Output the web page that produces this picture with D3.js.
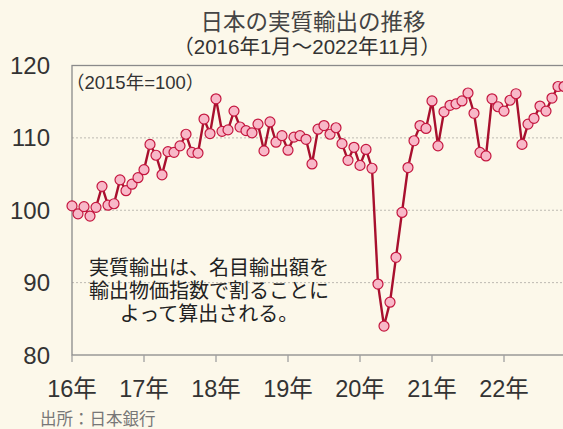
<!DOCTYPE html>
<html lang="ja">
<head>
<meta charset="utf-8">
<title>日本の実質輸出の推移</title>
<script src="https://d3js.org/d3.v7.min.js"></script>
<style>
  body { margin: 0; background: #fcf8ea; }
  svg { display: block; font-family: "Liberation Sans", Arial, "Noto Sans CJK JP", sans-serif; }
</style>
</head>
<body>
<script>
// monthly real exports index, 2016-01 .. 2022-11 (2015 = 100)
var values = [
  100.6, 99.5, 100.5, 99.2, 100.4, 103.3, 100.7, 100.9, 104.2, 102.7, 103.6, 104.5,
  105.6, 109.1, 107.6, 104.9, 108.1, 108.0, 108.9, 110.5, 108.0, 107.9, 112.6, 110.6,
  115.4, 110.9, 111.1, 113.7, 111.5, 111.0, 110.7, 111.9, 108.2, 112.2, 109.4, 110.3,
  108.3, 110.1, 110.3, 109.8, 106.4, 111.2, 111.7, 110.5, 111.4, 109.2, 106.9, 108.7,
  106.2, 108.4, 105.8, 89.8, 84.0, 87.3, 93.5, 99.7, 105.9, 109.6, 111.7, 111.3,
  115.1, 108.9, 113.6, 114.5, 114.7, 115.1, 116.2, 113.4, 108.0, 107.5, 115.4, 114.3,
  113.7, 115.2, 116.1, 109.1, 111.9, 112.7, 114.4, 113.7, 115.5, 117.1, 117.1
];
var yearLabels = ["16年", "17年", "18年", "19年", "20年", "21年", "22年"];
var yTicks = [80, 90, 100, 110, 120];
var noteLines = ["実質輸出は、名目輸出額を", "輸出物価指数で割ることに", "よって算出される。"];

var width = 563, height = 429;
var plotL = 72, plotT = 65.5, plotR = 570, plotB = 355;

var svg = d3.select("body").append("svg")
  .attr("width", width)
  .attr("height", height);

svg.append("rect").attr("width", width).attr("height", height).attr("fill", "#fcf8ea");

var x = d3.scaleLinear().domain([0, 12]).range([plotL, plotL + 72]);
var y = d3.scaleLinear().domain([80, 120]).range([plotB, plotT]);

// grid
svg.selectAll(".grid")
  .data([90, 100, 110])
  .enter().append("line")
  .attr("x1", plotL).attr("x2", plotR)
  .attr("y1", function(d) { return y(d); })
  .attr("y2", function(d) { return y(d); })
  .attr("stroke", "#bdbab2")
  .attr("stroke-width", 1)
  .attr("stroke-dasharray", "2,2");

// frame
svg.append("rect")
  .attr("x", plotL).attr("y", plotT)
  .attr("width", plotR - plotL).attr("height", plotB - plotT)
  .attr("fill", "none")
  .attr("stroke", "#8a8a8a")
  .attr("stroke-width", 1.3);

// x ticks
svg.selectAll(".xtick")
  .data(yearLabels)
  .enter().append("line")
  .attr("x1", function(d, i) { return x(i * 12); })
  .attr("x2", function(d, i) { return x(i * 12); })
  .attr("y1", plotB).attr("y2", plotB + 7)
  .attr("stroke", "#a0a0a0")
  .attr("stroke-width", 1.3);

svg.selectAll(".xlab")
  .data(yearLabels)
  .enter().append("text")
  .attr("x", function(d, i) { return x(i * 12); })
  .attr("y", 397)
  .attr("text-anchor", "middle")
  .attr("font-size", 23.5)
  .attr("fill", "#333")
  .text(function(d) { return d; });

svg.selectAll(".ylab")
  .data(yTicks)
  .enter().append("text")
  .attr("x", 50)
  .attr("y", function(d) { return y(d) + 8.6; })
  .attr("text-anchor", "end")
  .attr("font-size", 24)
  .attr("fill", "#333")
  .text(function(d) { return d; });

// line + markers
var line = d3.line()
  .x(function(d, i) { return x(i); })
  .y(function(d) { return y(d); });

svg.append("path")
  .datum(values)
  .attr("d", line)
  .attr("fill", "none")
  .attr("stroke", "#a8102e")
  .attr("stroke-width", 2.4);

svg.selectAll(".dot")
  .data(values)
  .enter().append("circle")
  .attr("cx", function(d, i) { return x(i); })
  .attr("cy", function(d) { return y(d); })
  .attr("r", 5)
  .attr("fill", "#f8b8c8")
  .attr("stroke", "#c4163f")
  .attr("stroke-width", 1.2);

// titles
svg.append("text")
  .attr("x", 313).attr("y", 30)
  .attr("text-anchor", "middle")
  .attr("font-size", 22.5)
  .attr("fill", "#444")
  .text("日本の実質輸出の推移");

svg.append("text")
  .attr("x", 307).attr("y", 54)
  .attr("text-anchor", "middle")
  .attr("font-size", 20.5)
  .attr("fill", "#333")
  .text("（2016年1月～2022年11月）");

svg.append("text")
  .attr("x", 66).attr("y", 89)
  .attr("font-size", 18.5)
  .attr("fill", "#333")
  .text("（2015年=100）");

svg.selectAll(".note")
  .data(noteLines)
  .enter().append("text")
  .attr("x", 209)
  .attr("y", function(d, i) { return 275 + i * 23; })
  .attr("text-anchor", "middle")
  .attr("font-size", 20)
  .attr("fill", "#222")
  .text(function(d) { return d; });

svg.append("text")
  .attr("x", 40).attr("y", 425)
  .attr("font-size", 16.5)
  .attr("fill", "#777")
  .text("出所：日本銀行");
</script>
</body>
</html>
